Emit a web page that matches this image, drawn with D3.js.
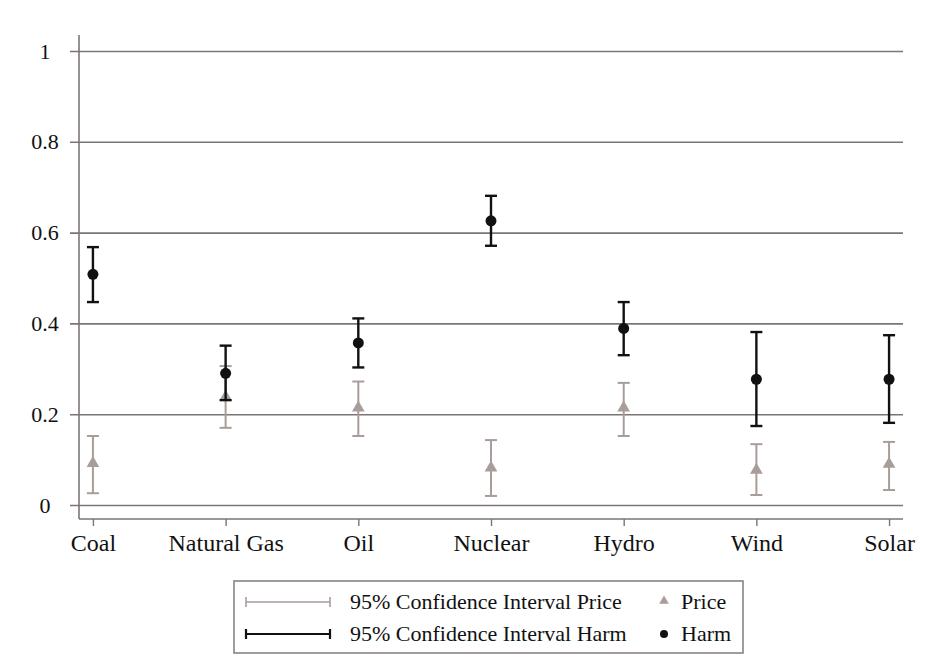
<!DOCTYPE html>
<html lang="en">
<head>
<meta charset="utf-8">
<title>Price and harm by energy source</title>
<script src="https://d3js.org/d3.v7.min.js"></script>
<style>
  body { margin: 0; background: #fff; }
  svg text { font-family: "Liberation Serif", "DejaVu Serif", serif; fill: #111; }
</style>
</head>
<body>
<div id="chart"></div>
<script>
// data
var categories = ["Coal", "Natural Gas", "Oil", "Nuclear", "Hydro", "Wind", "Solar"];
var harm      = [0.508, 0.290, 0.357, 0.626, 0.389, 0.277, 0.277];
var harmLow   = [0.447, 0.231, 0.303, 0.571, 0.330, 0.174, 0.181];
var harmHigh  = [0.568, 0.351, 0.411, 0.681, 0.447, 0.381, 0.374];
var price     = [0.092, 0.238, 0.214, 0.082, 0.214, 0.077, 0.090];
var priceLow  = [0.026, 0.170, 0.152, 0.020, 0.152, 0.022, 0.033];
var priceHigh = [0.152, 0.306, 0.272, 0.143, 0.269, 0.134, 0.139];
var yTicks = [0, 0.2, 0.4, 0.6, 0.8, 1];

var W = 930, H = 655;
var m = {left: 79, right: 903, top: 35, bottom: 519};
var gridCol = "#7d7575", priceCol = "#a99d99", harmCol = "#111";

var svg = d3.select("#chart").append("svg")
    .attr("width", W).attr("height", H);

var x = d3.scalePoint().domain(categories).range([m.left, m.right]).padding(0.105);
var y = d3.scaleLinear().domain([-0.0308, 1.0352]).range([m.bottom, m.top]);

// y axis with gridlines
var yAxis = d3.axisLeft(y).tickValues(yTicks).tickSize(-(m.right - m.left)).tickSizeOuter(0)
    .tickFormat(function(d) { return d === 0 || d === 1 ? String(d) : d3.format(".1f")(d); });
var gy = svg.append("g").attr("transform", "translate(" + m.left + ",0)").call(yAxis);
gy.select(".domain").remove();
gy.selectAll(".tick line").attr("x1", -9).attr("stroke", gridCol).attr("stroke-width", 1.6);
gy.selectAll(".tick text").attr("x", -34).attr("text-anchor", "middle")
    .style("font-size", "22px");

// x axis
var xAxis = d3.axisBottom(x).tickSize(7).tickSizeOuter(0).tickPadding(8);
var gx = svg.append("g").attr("transform", "translate(0," + m.bottom + ")").call(xAxis);
gx.select(".domain").attr("stroke", gridCol).attr("stroke-width", 1.6)
    .attr("d", "M" + m.left + ",0H" + m.right);
gx.selectAll(".tick line").attr("stroke", gridCol).attr("stroke-width", 1.4);
gx.selectAll(".tick text").style("font-size", "24px");

// y axis line
svg.append("line").attr("x1", m.left).attr("x2", m.left).attr("y1", m.top).attr("y2", m.bottom)
    .attr("stroke", gridCol).attr("stroke-width", 1.6);

var cap = 6;
function bars(lo, hi, col, w) {
  var g = svg.append("g").attr("stroke", col).attr("stroke-width", w);
  categories.forEach(function(c, i) {
    var cx = x(c);
    g.append("line").attr("x1", cx).attr("x2", cx).attr("y1", y(lo[i])).attr("y2", y(hi[i]));
    g.append("line").attr("x1", cx - cap).attr("x2", cx + cap).attr("y1", y(lo[i])).attr("y2", y(lo[i]));
    g.append("line").attr("x1", cx - cap).attr("x2", cx + cap).attr("y1", y(hi[i])).attr("y2", y(hi[i]));
  });
}

var tri = d3.symbol().type(d3.symbolTriangle).size(70);

// price first (underneath)
bars(priceLow, priceHigh, priceCol, 2);
svg.append("g").selectAll("path").data(price).join("path")
    .attr("d", tri)
    .attr("transform", function(d, i) { return "translate(" + x(categories[i]) + "," + y(d) + ")"; })
    .attr("fill", priceCol);

bars(harmLow, harmHigh, harmCol, 2.4);
svg.append("g").selectAll("circle").data(harm).join("circle")
    .attr("cx", function(d, i) { return x(categories[i]); })
    .attr("cy", function(d) { return y(d); })
    .attr("r", 5.5).attr("fill", harmCol);

// legend
var lg = svg.append("g");
lg.append("rect").attr("x", 234).attr("y", 581).attr("width", 509).attr("height", 72)
    .attr("fill", "#fff").attr("stroke", "#8a8282").attr("stroke-width", 1.6);
var rows = [
  {label: "95% Confidence Interval Price", sym: "Price", col: priceCol, w: 1.6, yy: 602},
  {label: "95% Confidence Interval Harm", sym: "Harm", col: harmCol, w: 2.2, yy: 634}
];
rows.forEach(function(r) {
  lg.append("line").attr("x1", 246).attr("x2", 330).attr("y1", r.yy).attr("y2", r.yy)
      .attr("stroke", r.col).attr("stroke-width", r.w);
  [246, 330].forEach(function(px) {
    lg.append("line").attr("x1", px).attr("x2", px).attr("y1", r.yy - 5).attr("y2", r.yy + 5)
        .attr("stroke", r.col).attr("stroke-width", r.w);
  });
  lg.append("text").attr("x", 350).attr("y", r.yy + 7).style("font-size", "22px").text(r.label);
  lg.append("text").attr("x", 681).attr("y", r.yy + 7).style("font-size", "22px").text(r.sym);
});
lg.append("path").attr("d", d3.symbol().type(d3.symbolTriangle).size(40))
    .attr("transform", "translate(664,601)").attr("fill", priceCol);
lg.append("circle").attr("cx", 664).attr("cy", 634).attr("r", 4).attr("fill", harmCol);
</script>
</body>
</html>
